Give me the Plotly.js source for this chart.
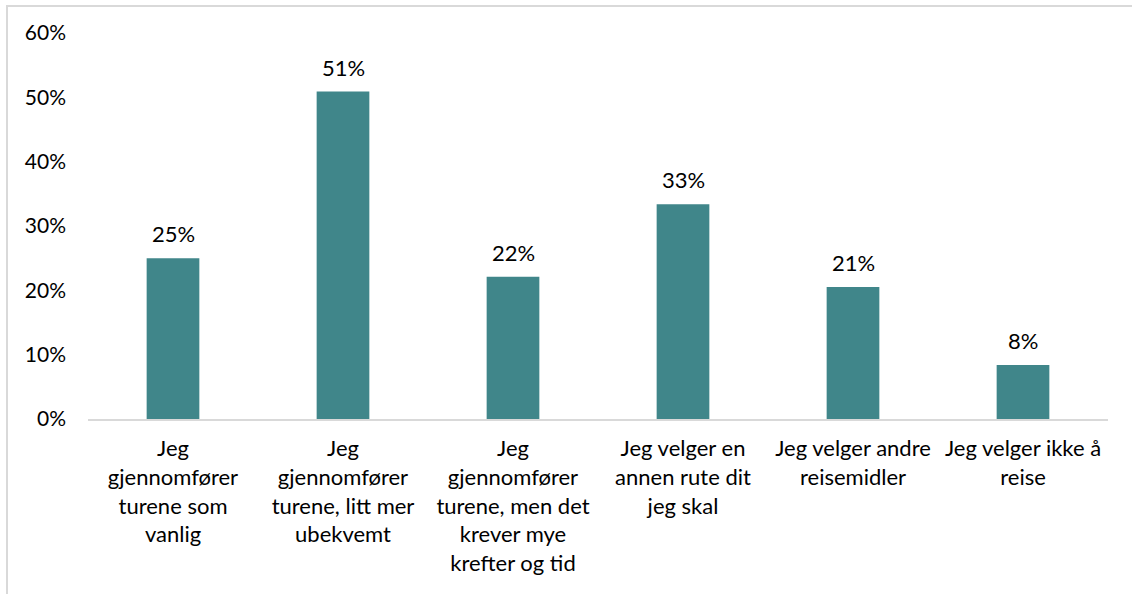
<!DOCTYPE html>
<html>
<head>
<meta charset="utf-8">
<script src="https://cdn.plot.ly/plotly-3.0.1.min.js"></script>
<style>
  html, body { margin: 0; padding: 0; background: #fff; }
  #frame { position: absolute; left: 6px; top: 5px; width: 1140px; height: 600px;
           border-top: 2px solid #d9d9d9; border-left: 2px solid #d9d9d9; box-sizing: border-box; }
  #chart { position: absolute; left: 0; top: 0; width: 1132px; height: 594px; }
</style>
</head>
<body>
<div id="frame"></div>
<div id="chart"></div>
<script>
const categories = [
  "Jeg<br>gjennomfører<br>turene som<br>vanlig",
  "Jeg<br>gjennomfører<br>turene, litt mer<br>ubekvemt",
  "Jeg<br>gjennomfører<br>turene, men det<br>krever mye<br>krefter og tid",
  "Jeg velger en<br>annen rute dit<br>jeg skal",
  "Jeg velger andre<br>reisemidler",
  "Jeg velger ikke å<br>reise"
];
const values = [0.250, 0.509, 0.221, 0.334, 0.205, 0.084];
const labels = ["25%", "51%", "22%", "33%", "21%", "8%"];
const yTicks = [0, 0.1, 0.2, 0.3, 0.4, 0.5, 0.6];
const yTickText = ["0%", "10%", "20%", "30%", "40%", "50%", "60%"];

const font = { family: "Lato, 'Open Sans', sans-serif", size: 22, color: "#000" };
const yfont = { family: "Lato, 'Open Sans', sans-serif", size: 21, color: "#000" };

const trace = {
  type: "bar",
  x: categories,
  y: values,
  marker: { color: "#40868A" },
  width: 0.31,
  hoverinfo: "skip"
};

const annotations = categories.map((c, i) => ({
  x: c, y: values[i], xref: "x", yref: "y",
  text: labels[i], showarrow: false,
  yanchor: "bottom", yshift: 9,
  font: font
}));

const layout = {
  width: 1132, height: 594,
  margin: { l: 88, r: 24, t: 33, b: 175 },
  paper_bgcolor: "rgba(0,0,0,0)",
  plot_bgcolor: "rgba(0,0,0,0)",
  showlegend: false,
  font: font,
  bargap: 0.69,
  xaxis: {
    type: "category",
    showline: true, linecolor: "#d9d9d9", linewidth: 2,
    ticks: "", showgrid: false, zeroline: false,
    tickfont: font, tickangle: 0,
    ticklabelstandoff: 9
  },
  yaxis: {
    range: [0, 0.6],
    tickvals: yTicks, ticktext: yTickText,
    showline: false, showgrid: false, zeroline: false,
    ticks: "", tickfont: yfont,
    ticklabelstandoff: 21
  },
  annotations: annotations
};

Plotly.newPlot("chart", [trace], layout, { staticPlot: true, displayModeBar: false });
</script>
</body>
</html>
